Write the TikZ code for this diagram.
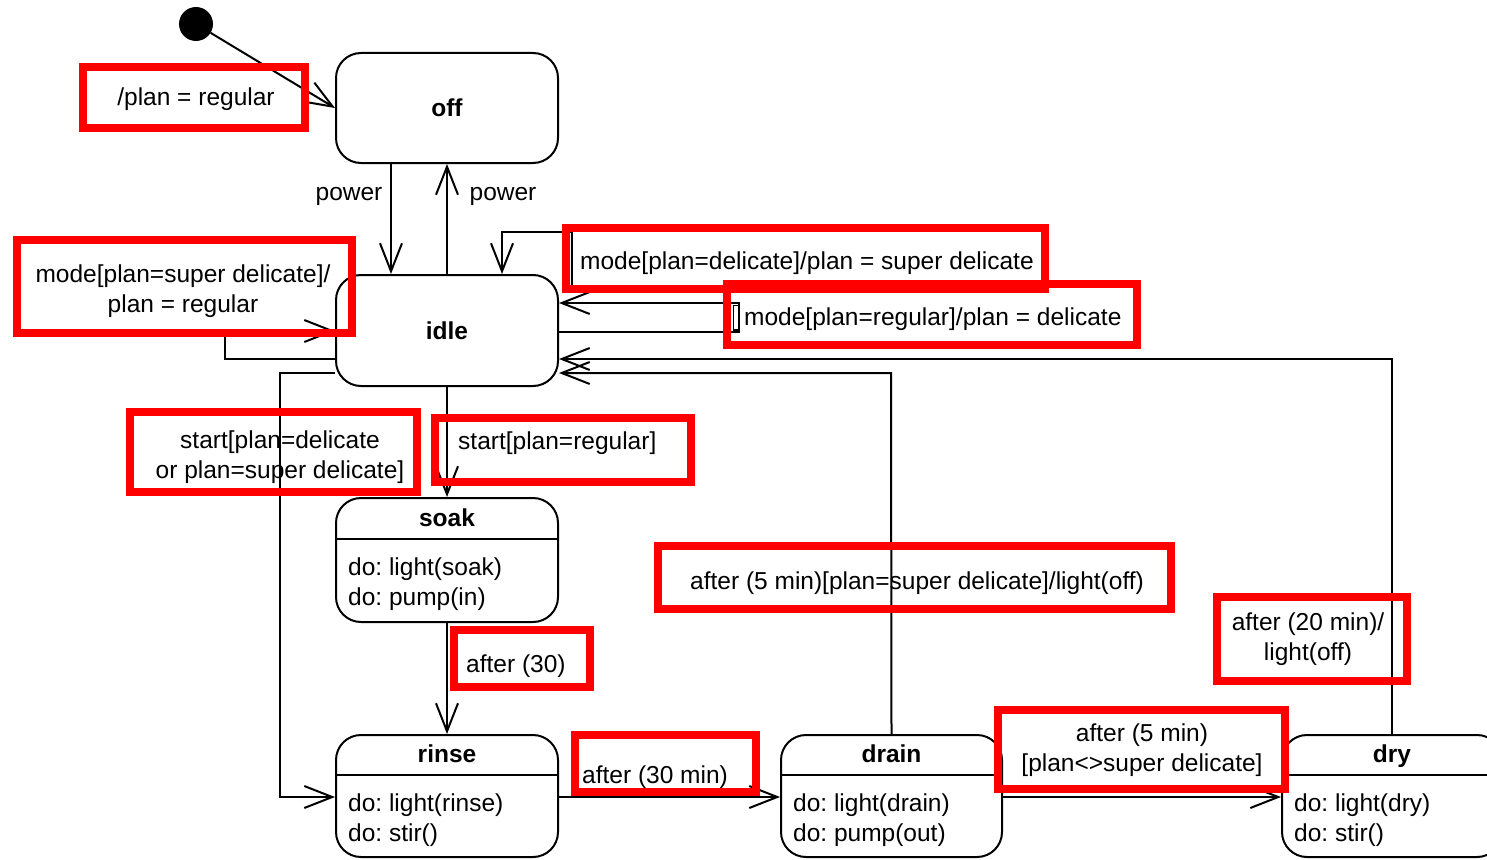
\documentclass[tikz,border=0pt]{standalone}
\usepackage{fontspec}
\setmainfont{Liberation Sans}
\usetikzlibrary{arrows.meta}
\frenchspacing
\begin{document}
\begin{tikzpicture}[x=1pt,y=-1pt,
  font=\fontsize{24.5}{30}\selectfont\frenchspacing,
  state/.style={draw, line width=2pt, rounded corners=25pt, fill=white, inner sep=0pt},
  tr/.style={line width=2pt, -{Straight Barb[length=28pt,width=22pt]}},
  plainline/.style={line width=2pt},
  thinline/.style={line width=1.2pt},
  lbl/.style={inner sep=0pt, text height=0.72em, text depth=0.22em, yshift=-6pt},
  multi/.style={inner sep=0pt, align=center, yshift=-2.5pt},
  body/.style={inner sep=0pt, align=left, anchor=west, yshift=-2pt},
  redframe/.style={draw=red, line width=8pt, inner sep=0pt}]

\useasboundingbox (0,0) rectangle (1487,859);
\fill[white] (0,0) rectangle (1487,859);
\clip (0,0) rectangle (1487,859);

% initial pseudo state
\node[circle, fill=black, minimum size=34pt, inner sep=0pt] (init) at (196,24) {};

% simple states
\node[state, minimum width=222pt, minimum height=110pt] (off) at (447,108) {\bfseries off};
\node[state, minimum width=222pt, minimum height=111pt] (idle) at (447,330.5) {\bfseries idle};

% states with a do-activity compartment
\node[state, minimum width=222pt, minimum height=124pt] (soak) at (447,560) {};
\draw[plainline] ([yshift=-42pt]soak.north west) -- ([yshift=-42pt]soak.north east);
\node[lbl] (soakT) at ([yshift=-21pt]soak.north) {\bfseries soak};
\node[body] (soakB) at (348,582) {do: light(soak)\\do: pump(in)};

\node[state, minimum width=222pt, minimum height=122pt] (rinse) at (447,796) {};
\draw[plainline] ([yshift=-41pt]rinse.north west) -- ([yshift=-41pt]rinse.north east);
\node[lbl] (rinseT) at ([yshift=-20pt]rinse.north) {\bfseries rinse};
\node[body] (rinseB) at (348,818) {do: light(rinse)\\do: stir()};

\node[state, minimum width=221pt, minimum height=122pt] (drain) at (891.5,796) {};
\draw[plainline] ([yshift=-41pt]drain.north west) -- ([yshift=-41pt]drain.north east);
\node[lbl] (drainT) at ([yshift=-20pt]drain.north) {\bfseries drain};
\node[body] (drainB) at (793,818) {do: light(drain)\\do: pump(out)};

\node[state, minimum width=220pt, minimum height=122pt] (dry) at (1392,796) {};
\draw[plainline] ([yshift=-41pt]dry.north west) -- ([yshift=-41pt]dry.north east);
\node[lbl] (dryT) at ([yshift=-20pt]dry.north) {\bfseries dry};
\node[body] (dryB) at (1294,818) {do: light(dry)\\do: stir()};

% routing points
\coordinate (xPow) at (391,0);
\coordinate (xLoopB) at (502,0);
\coordinate (lbEnd) at (572,232);
\coordinate (lbLow) at (572,287);
\coordinate (laTop) at (739,303);
\coordinate (laBot) at (739,332);
\coordinate (llBot) at (225,359);
\coordinate (llTop) at (225,331);
\coordinate (irTop) at (280,373);
\coordinate (irBot) at (280,797);
\coordinate (yRow) at (0,797);
\coordinate (dnCorner) at (891,373);
\coordinate (dyCorner) at (1392,359);

% transitions
\draw[tr] (init) -- (off.west);
\draw[tr] (off.south -| xPow) -- (idle.north -| xPow);
\draw[tr] (idle.north) -- (off.south);
\draw[tr] (lbEnd) -- (lbEnd -| xLoopB) -- (idle.north -| xLoopB);
\draw[thinline] (lbEnd) -- (lbLow);
\draw[tr] (idle.east |- laBot) -- (laBot) -- (laTop) -- (idle.east |- laTop);
\draw[thinline] (733.5,305.5) rectangle (739,330);
\draw[tr] (idle.west |- llBot) -- (llBot) -- (llTop) -- (idle.west |- llTop);
\draw[tr] (idle.south) -- (soak.north);
\draw[tr] (idle.west |- irTop) -- (irTop) -- (irBot) -- (rinse.west |- irBot);
\draw[tr] (soak.south) -- (rinse.north);
\draw[tr] (rinse.east |- yRow) -- (drain.west |- yRow);
\draw[tr] (drain.east |- yRow) -- (dry.west |- yRow);
\draw[tr] (drain.north) -- (dnCorner) -- (idle.east |- dnCorner);
\draw[tr] (dry.north) -- (dyCorner) -- (idle.east |- dyCorner);

% transition labels
\node[lbl] (tInit) at (196,97) {/plan = regular};
\node[lbl] (tPowDown) at (349,192) {power};
\node[lbl] (tPowUp) at (503,192) {power};
\node[multi] (tSuper) at (183,288.5) {mode[plan=super delicate]/\\plan = regular};
\node[lbl, anchor=west] (tDeli) at (580,261) {mode[plan=delicate]/plan = super delicate};
\node[lbl, anchor=west] (tReg) at (744,317) {mode[plan=regular]/plan = delicate};
\node[multi] (tStartD) at (280,455) {start[plan=delicate\\or plan=super delicate]};
\node[lbl, anchor=west] (tStartR) at (458,441) {start[plan=regular]};
\node[lbl, anchor=west] (tDrainIdle) at (690,581) {after (5 min)[plan=super delicate]/light(off)};
\node[multi] (tDryIdle) at (1308,636.5) {after (20 min)/\\light(off)};
\node[lbl, anchor=west] (tSoak) at (466,664) {after (30)};
\node[lbl, anchor=west] (tRinse) at (582,775) {after (30 min)};
\node[multi] (tDrainDry) at (1142,748) {after (5 min)\\{}[plan<>super delicate]};

% highlight frames
\node[redframe, minimum width=222pt, minimum height=61pt] (rf1) at (194,97.5) {};
\node[redframe, minimum width=335pt, minimum height=93pt] (rf2) at (184.5,286.5) {};
\node[redframe, minimum width=479pt, minimum height=61pt] (rf3) at (805.5,258.5) {};
\node[redframe, minimum width=410pt, minimum height=61pt] (rf4) at (932,314.5) {};
\node[redframe, minimum width=287pt, minimum height=80pt] (rf5) at (273.5,452) {};
\node[redframe, minimum width=256pt, minimum height=64pt] (rf6) at (563,450) {};
\node[redframe, minimum width=513pt, minimum height=63pt] (rf7) at (914.5,577.5) {};
\node[redframe, minimum width=190pt, minimum height=84pt] (rf8) at (1312,639) {};
\node[redframe, minimum width=136pt, minimum height=57pt] (rf9) at (522,658.5) {};
\node[redframe, minimum width=181pt, minimum height=57pt] (rf10) at (665.5,763.5) {};
\node[redframe, minimum width=287pt, minimum height=79pt] (rf11) at (1141.5,749.5) {};
\end{tikzpicture}
\end{document}
